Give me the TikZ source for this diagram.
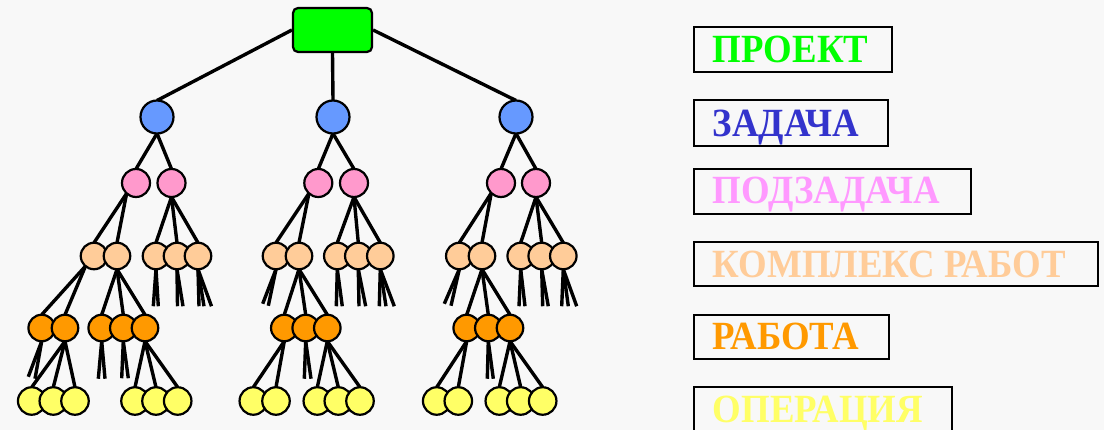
\documentclass[tikz,border=0pt]{standalone}
\usepackage{fontspec}
\setmainfont{Liberation Serif}
\newfontfamily\labfont[FakeStretch=0.92]{Liberation Serif}
\usetikzlibrary{calc}
\definecolor{bgc}{HTML}{F8F8F8}
\definecolor{cgreen}{HTML}{00FF00}
\definecolor{cblue}{HTML}{6699FF}
\definecolor{cpink}{HTML}{FF99CC}
\definecolor{cpeach}{HTML}{FFCC99}
\definecolor{corange}{HTML}{FF9900}
\definecolor{cyellow}{HTML}{FFFF66}
\definecolor{tblue}{HTML}{3333CC}
\definecolor{tpink}{HTML}{FF99FF}
\pgfdeclarelayer{bg}
\pgfdeclarelayer{lines}
\pgfsetlayers{bg,lines,main}
\newcommand\edges[3]{\foreach \c in {#3} {\draw[conn] (#1.#2) -- (\c.north);}}
\newcommand\stubs[2]{\foreach \dx/\dy [count=\k] in {#2} {\coordinate (#1s\k) at ($(#1.south)+(\dx,\dy)$); \draw[conn] (#1.south) -- (#1s\k);}}
\tikzset{
  x=1pt, y=-1pt,
  conn/.style={line width=3.4pt, black},
  circ/.style={circle, draw=black, line width=2.2pt, inner sep=0pt, outer sep=0pt},
  bl/.style={circ, fill=cblue, minimum size=33pt},
  pk/.style={circ, fill=cpink, minimum size=28pt},
  pc/.style={circ, fill=cpeach, minimum size=26.5pt},
  or/.style={circ, fill=corange, minimum size=26.5pt},
  yl/.style={circ, fill=cyellow, minimum size=27.5pt},
  boxline/.style={draw=black, line width=2.2pt},
  lab/.style={anchor=base west, inner sep=0pt, font=\labfont\fontsize{40}{48}\selectfont\bfseries},
}
\begin{document}
\begin{tikzpicture}
\begin{pgfonlayer}{bg}
\fill[bgc] (0,0) rectangle (1104,430);
\end{pgfonlayer}
\useasboundingbox (0,0) rectangle (1104,430);
% root
\node[draw=black, line width=2.2pt, fill=cgreen, rounded corners=5pt, minimum width=79pt, minimum height=44pt, inner sep=0pt] (r) at (332.5,30) {};
% tasks
\node[bl] (b1) at (157,117) {};
\node[bl] (b2) at (333,117) {};
\node[bl] (b3) at (516,117) {};
% subtasks
\node[pk] (pL1) at (136,183) {};
\node[pk] (pL2) at (171.5,183) {};
\node[pk] (pM1) at (318.3,183) {};
\node[pk] (pM2) at (354,183) {};
\node[pk] (pR1) at (501,183) {};
\node[pk] (pR2) at (536,183) {};
% complexes
\foreach \n/\x in {L1/94, L2/117, L3/156, L4/177, L5/198, M1/276, M2/299, M3/337.3, M4/358.3, M5/380.3, R1/459.3, R2/482, R3/520.7, R4/541.7, R5/563.3}
  {\node[pc] (c\n) at (\x,256) {};}
% works
\foreach \n/\x in {L1/41.7, L2/65, L3/101.7, L4/123.3, L5/145, M1/284.3, M2/305.7, M3/327.3, R1/466.7, R2/488.3, R3/510}
  {\node[or] (o\n) at (\x,328) {};}
% operations
\foreach \n/\x in {L1/31.7, L2/53.3, L3/75, L4/135, L5/156, L6/177.7, M1/253.3, M2/276, M3/317.3, M4/338.3, M5/360, R1/436.7, R2/458.3, R3/499.3, R4/520.7, R5/542.7}
  {\node[yl] (y\n) at (\x,401) {};}
% connectors
\begin{pgfonlayer}{lines}
\draw[conn] (r.west) -- (b1.north);
\draw[conn] (r.south) -- (b2.north);
\draw[conn] (r.east) -- (b3.north);
\edges{b1}{south}{pL1,pL2}
\edges{b2}{south}{pM1,pM2}
\edges{b3}{south}{pR1,pR2}
\edges{pL1}{228}{cL1,cL2}
\edges{pL2}{south}{cL3,cL4,cL5}
\edges{pM1}{228}{cM1,cM2}
\edges{pM2}{south}{cM3,cM4,cM5}
\edges{pR1}{226}{cR1,cR2}
\edges{pR2}{south}{cR3,cR4,cR5}
% left group
\edges{cL1}{230}{oL1,oL2}
\edges{cL2}{south}{oL3,oL4,oL5}
\stubs{cL3}{-2.7/37, 2.3/37}
\stubs{cL4}{0.5/37, 6/37}
\stubs{cL5}{1/37, 6/37, 13.5/37}
\stubs{oL1}{-13.4/35.5, -6.7/37.5}
\edges{oL2}{south}{yL1,yL2,yL3}
\stubs{oL3}{-3.4/37.5, 3.3/37.5}
\stubs{oL4}{-1.6/37, 5/37}
\edges{oL5}{south}{yL4,yL5,yL6}
% middle group
\stubs{cM1}{-13.3/34.5, -7.7/36.5}
\edges{cM2}{south}{oM1,oM2,oM3}
\stubs{cM3}{-1/37, 5/37}
\stubs{cM4}{0.7/37, 7.4/37}
\stubs{cM5}{-1/37, 5.7/37, 14/37}
\edges{oM1}{south}{yM1,yM2}
\stubs{oM2}{-1.4/37.5, 5.3/37.5}
\edges{oM3}{south}{yM3,yM4,yM5}
% right group
\stubs{cR1}{-15/34.5, -8.3/36.5}
\edges{cR2}{south}{oR1,oR2,oR3}
\stubs{cR3}{-1.7/37, 4.3/37}
\stubs{cR4}{1/37, 6.6/37}
\stubs{cR5}{-1.6/37, 5/37, 13.4/37}
\edges{oR1}{south}{yR1,yR2}
\stubs{oR2}{-1/37.5, 5/37.5}
\edges{oR3}{south}{yR3,yR4,yR5}
\end{pgfonlayer}
% legend
\draw[boxline] (694.3,26.7) rectangle (891.7,71.7);
\draw[boxline] (694.3,100.3) rectangle (887.7,145.7);
\draw[boxline] (694.3,168.7) rectangle (971.3,214);
\draw[boxline] (694.3,241.7) rectangle (1098.3,286.3);
\draw[boxline] (694.3,314.7) rectangle (889.3,359.3);
\draw[boxline] (694.3,386.7) rectangle (951.7,440);
\node[lab, text=cgreen] (t1) at (712.7,62.7) {ПРОЕКТ};
\node[lab, text=tblue] (t2) at (712.7,136.7) {ЗАДАЧА};
\node[lab, text=tpink] (t3) at (712.7,204) {ПОДЗАДАЧА};
\node[lab, text=cpeach] (t4) at (712.7,277.3) {КОМПЛЕКС РАБОТ};
\node[lab, text=corange] (t5) at (712.7,350) {РАБОТА};
\node[lab, text=cyellow] (t6) at (712.7,422.7) {ОПЕРАЦИЯ};
\end{tikzpicture}
\end{document}
